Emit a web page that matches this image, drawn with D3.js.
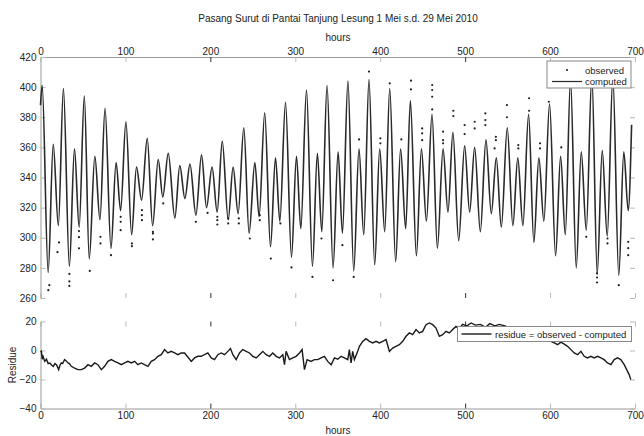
<!DOCTYPE html>
<html>
<head>
<meta charset="utf-8">
<script src="https://cdnjs.cloudflare.com/ajax/libs/d3/7.8.5/d3.min.js"></script>
<style>
  body { margin: 0; background: #fff; }
  svg text { font-family: 'Liberation Sans', Arial, sans-serif; fill: #222; }
</style>
</head>
<body>
<svg id="chart" width="644" height="436"></svg>
<script>
var chartTitle = 'Pasang Surut di Pantai Tanjung Lesung 1 Mei s.d. 29 Mei 2010';
var hourTicks = [0, 100, 200, 300, 400, 500, 600, 700];
var levelTicks = [260, 280, 300, 320, 340, 360, 380, 400, 420];
var residueTicks = [-40, -20, 0, 20];

// computed tide, read at its turning points (hours, level)
var computedHours = [0, 2, 9, 15, 21, 27, 34, 40, 45.5, 51.6, 57.4, 64, 70, 76, 83, 89, 94.3,
  100.6, 107.3, 113, 119, 125.7, 132, 138.6, 144, 150.4, 158.2, 164, 170, 176, 183, 189.6,
  195.5, 202, 208, 214, 221, 226.8, 232.7, 239.4, 245.6, 252.4, 257.4, 264, 270.8, 276.7,
  281.8, 288.5, 295.5, 301.4, 306.5, 313.2, 320.2, 326, 331.2, 337.4, 344.5, 350.4, 355.5,
  362, 368.8, 375, 380.6, 386.8, 393.5, 399.4, 405.3, 411.2, 418.2, 424, 430, 435.5, 442.6,
  448.5, 454.4, 461, 467.3, 474, 479.8, 485.6, 492.4, 499.4, 505.3, 511.2, 517.9, 524.5,
  530.8, 536.7, 542.6, 549.6, 556.2, 562, 568, 574.7, 580.9, 586.8, 592.7, 599.4, 606.5,
  612.4, 617.9, 624.1, 630.8, 636.7, 642.6, 649.2, 655.5, 661.4, 667.3, 673.9, 680.9,
  686.8, 692, 696];
var computedLevels = [388, 401, 277, 362, 308, 399, 281, 359, 307, 394, 286, 354, 312, 386, 293, 350, 318,
  377, 302, 347, 325, 366, 308, 352, 327, 356, 313, 348, 326, 349, 315, 355,
  320, 347, 317, 364, 312, 347, 316, 373, 303, 350, 314, 383, 294, 353,
  311, 390, 287, 354, 306, 398, 281, 356, 304, 401, 280, 357, 303,
  404, 278, 359, 302, 405, 282, 359, 304, 399, 284, 359, 306, 391, 288,
  359, 311, 382, 293, 359, 317, 370, 298, 361, 317, 360, 304, 365,
  316, 353, 307, 373, 308, 353, 308, 382, 297, 353, 311, 389, 288,
  354, 302, 405, 280, 357, 305, 408, 276, 358, 301, 407, 275,
  357, 318, 375];

// observed readings that stand off the computed curve
var observedHours = [9.2, 10.4, 20, 21.8, 34, 34, 34, 45.3, 45.3, 45.3, 58, 70.6, 70.6, 83, 94.4, 94.4, 94.4,
  107.6, 107.6, 119.4, 119.4, 119.4, 132.4, 132.4, 132.4, 144.5, 182.9, 196.7, 208.2, 208.2, 208.2,
  221, 221, 233.5, 233.5, 246.5, 258.2, 258.2, 271.2, 282.5, 295.5, 320.2, 330.8, 344.5, 355.5,
  368.8, 375.1, 386.8, 400.2, 400.2, 411.2, 424.9, 436.2, 436.2, 449.4, 449.4, 449.4, 461.2, 461.2,
  461.2, 461.2, 474, 474, 474, 486.1, 486.1, 499.4, 499.4, 511.2, 511.2, 523.8, 523.8, 523.8,
  534.7, 536.2, 536.2, 549.2, 549.2, 562.6, 562.6, 575.3, 575.3, 588.2, 588.2, 598.6, 613.2,
  642.6, 655.3, 655.3, 655.3, 667.6, 667.6, 680.9, 692, 692, 692];
var observedLevels = [265.2, 268.5, 290.4, 296.9, 276, 271, 268, 304.4, 300.4, 293, 278, 300.6, 296.2, 288.4, 313.9, 310.6, 305,
  296.2, 294.4, 318.3, 315, 311.7, 303.9, 302.8, 298.9, 322.8, 310.6, 316.5, 313.9, 311.7, 308.8,
  312.8, 309.5, 312.8, 309.5, 299.5, 315, 311.7, 286.2, 309.5, 280.3, 274, 299.5, 271.8, 295.1,
  274, 365.3, 410.3, 366, 362.7, 402.5, 365.3, 404.3, 398.5, 372.6, 369.3, 364.8, 401.4, 398.1,
  393.6, 385.2, 370.4, 364.8, 362.7, 384.3, 380.8, 374.8, 368.8, 377, 372.6, 382.6, 378.1, 374.8,
  359.3, 367, 364.8, 388.1, 380, 361.5, 359.3, 392.6, 384.3, 362.7, 359.3, 390.3, 360,
  300.6, 276.3, 273.6, 270.3, 299.5, 296.2, 268.5, 297.3, 293.1, 288.4];

// residue = observed - computed
var residueHours = [0, 1, 2, 3, 5, 7, 9, 11, 13, 15, 17, 19, 21.4, 23, 24.5, 26, 28.4, 30, 32.4, 34,
  36.3, 40.2, 44.1, 48, 52, 55.9, 59.8, 63.7, 67.6, 71.6, 75.5, 79.4, 83.3, 87.3, 91.2, 95.1,
  99, 102.9, 106.9, 110.8, 114.7, 118.6, 122.5, 126.5, 130.4, 134.3, 138.2, 142.2, 146.1, 150,
  153.9, 157.9, 161.8, 165.7, 169.6, 173.5, 177.5, 181.4, 185.3, 189.2, 193.1, 197.1, 201,
  204.9, 208.8, 212.7, 216.7, 220.6, 223.7, 226.5, 230.4, 234.3, 238.2, 242.2, 246.1, 250,
  253.9, 257.8, 261.8, 265.7, 269.6, 273.5, 277.5, 281.4, 285.3, 287.3, 289.2, 293.1, 297.1,
  301, 304.9, 308, 310.8, 313.9, 318.6, 322.5, 326.5, 330.4, 334.3, 338.2, 342.2, 346.1, 350,
  353.9, 357.8, 361.8, 363.7, 365.7, 367.6, 369.6, 373.5, 375.5, 379.4, 383.3, 387.3, 391.2,
  395.1, 399, 402.9, 406.9, 410.8, 414.7, 418.6, 422.5, 426.5, 430.4, 434.3, 438.2, 442.2,
  446.1, 450, 453.9, 457.8, 461.8, 465.7, 469.6, 473.5, 477.5, 481.4, 485.3, 489.2, 493, 497,
  502, 507, 512, 518, 524, 529, 535, 540, 547, 553, 560, 570, 580, 590, 598, 605, 608.8,
  612.7, 616.7, 620.6, 624.5, 628.4, 632.4, 636.3, 640.2, 644.1, 648, 652, 655.9, 659.8,
  663.7, 667.6, 671.6, 675.5, 679.4, 683.3, 687.3, 691.2, 693.1, 695.1];
var residueValues = [-1, -0.5, -6, -4, -7.5, -6, -9, -8.6, -10, -11, -9, -10, -13.2, -10, -8.6, -9, -6.3, -7, -8.6, -9,
  -10.9, -12.1, -13.2, -13.2, -12.1, -9.8, -10.9, -8.6, -9.8, -13.2, -10.9, -7.5, -6.3, -7.5, -8.6, -9.8,
  -8.6, -7.5, -8.6, -7.5, -9.8, -8.6, -9.8, -10.9, -7.5, -6.3, -4, -2.9, 0.6, -1.7,
  -0.6, -1.7, -2.9, -1.7, -1.7, -4.5, -7.5, -5.1, -4, -4, -2.9, -1.7, -5.1,
  -6.3, -2.9, -1.7, -2.9, -0.6, 1.3, -2.9, -6.3, -1.7, 0.6, -0.6, -1.7, -4,
  -5.1, -2.9, -0.6, -2.9, -4, -1.7, -4, -5.1, -2.9, -9.8, -0.6, -6.3, -5.1,
  -4, -1.7, 0.6, -13.2, -6.3, -7.5, -6.3, -6.3, -5.1, -4, -7.5, -9.8, -5.1, -6,
  -4, -5.1, -6.3, 0.6, -8.6, -0.6, -6.3, -0.6, 2.9, 6.3, 8.2, 6.3, 5.2,
  6.3, 5.2, 6.3, 7.5, -0.6, 1.7, 2.9, 4, 6.3, 9.8, 12.1, 10.9, 14.4,
  12.1, 13.2, 17.8, 19, 17.8, 15.5, 9.8, 10.9, 13.2, 12.1, 14.4, 16.6, 15, 18,
  17, 19, 17.5, 18, 16, 18.5, 17, 18, 17, 15, 14, 12, 11, 9, 7, 5.2, 4,
  5.8, 4.4, 2.9, 0.6, -1.7, -2.9, -0.6, -4, -5.1, -4, -5.1, -4, -5.1,
  -6.3, -8.6, -9.8, -6.3, -5.1, -6.3, -9.8, -14.4, -16.6, -20.1];

var darkHourTicks = [200, 500];

var svg = d3.select('#chart');

var x = d3
  .scaleLinear()
  .domain([0, 700])
  .range([40.5, 635]);

var yTop = d3
  .scaleLinear()
  .domain([260, 420])
  .range([298, 57]);

var yBot = d3
  .scaleLinear()
  .domain([-40, 20])
  .range([408.5, 321.5]);

function styleAxis(g, hideDomain) {
  g.selectAll('text')
    .style('font-size', '10px')
    .attr('fill', '#222');
  g.selectAll('.tick line').attr('stroke', function(d) {
    return darkHourTicks.indexOf(d) >= 0 ? '#333' : '#bbb';
  });
  if (hideDomain) {
    g.select('.domain').remove();
  } else {
    g.select('.domain').attr('stroke', '#999');
  }
}

// ---- top panel ----
svg
  .append('text')
  .attr('x', 338)
  .attr('y', 22)
  .attr('text-anchor', 'middle')
  .style('font-size', '10px')
  .text(chartTitle);

svg
  .append('text')
  .attr('x', 338)
  .attr('y', 41)
  .attr('text-anchor', 'middle')
  .style('font-size', '10px')
  .text('hours');

svg
  .append('g')
  .attr('transform', 'translate(0,57)')
  .call(d3.axisTop(x).tickValues(hourTicks).tickSizeInner(-5).tickSizeOuter(0).tickPadding(2))
  .call(styleAxis, false);

svg
  .append('g')
  .attr('transform', 'translate(0,298)')
  .call(d3.axisBottom(x).tickValues(hourTicks).tickSizeInner(-5).tickSizeOuter(0).tickFormat(''))
  .call(styleAxis, true);

svg
  .append('g')
  .attr('transform', 'translate(40.5,0)')
  .call(d3.axisLeft(yTop).tickValues(levelTicks).tickSizeInner(-5).tickSizeOuter(0).tickPadding(4))
  .call(styleAxis, false);

svg
  .append('g')
  .attr('transform', 'translate(635,0)')
  .call(d3.axisRight(yTop).tickValues(levelTicks).tickSizeInner(-5).tickSizeOuter(0).tickFormat(''))
  .call(styleAxis, true);

var computed = computedHours.map(function(h, i) {
  return { hour: h, level: computedLevels[i] };
});

var tideLine = d3
  .line()
  .x(function(d) {
    return x(d.hour);
  })
  .y(function(d) {
    return yTop(d.level);
  })
  .curve(d3.curveMonotoneX);

svg
  .append('path')
  .datum(computed)
  .attr('fill', 'none')
  .attr('stroke', '#2a2a2a')
  .attr('stroke-width', 1.6)
  .attr('d', tideLine);

var observed = observedHours.map(function(h, i) {
  return { hour: h, level: observedLevels[i] };
});

svg
  .selectAll('.obs')
  .data(observed)
  .enter()
  .append('circle')
  .attr('class', 'obs')
  .attr('cx', function(d) {
    return x(d.hour);
  })
  .attr('cy', function(d) {
    return yTop(d.level);
  })
  .attr('r', 1.1)
  .attr('fill', '#222');

// legend (top)
var legTop = svg.append('g').attr('transform', 'translate(547,61)');
legTop
  .append('rect')
  .attr('width', 84)
  .attr('height', 27)
  .attr('fill', '#fff')
  .attr('stroke', '#888');
legTop
  .append('circle')
  .attr('cx', 20)
  .attr('cy', 9)
  .attr('r', 1.1)
  .attr('fill', '#222');
legTop
  .append('text')
  .attr('x', 38)
  .attr('y', 12.5)
  .style('font-size', '9.5px')
  .text('observed');
legTop
  .append('line')
  .attr('x1', 5)
  .attr('x2', 35)
  .attr('y1', 20.5)
  .attr('y2', 20.5)
  .attr('stroke', '#2a2a2a')
  .attr('stroke-width', 1.2);
legTop
  .append('text')
  .attr('x', 38)
  .attr('y', 24)
  .style('font-size', '9.5px')
  .text('computed');

// ---- bottom panel ----
svg
  .append('g')
  .attr('transform', 'translate(0,408.5)')
  .call(d3.axisBottom(x).tickValues(hourTicks).tickSizeInner(-5).tickSizeOuter(0).tickPadding(3))
  .call(styleAxis, false);

svg
  .append('g')
  .attr('transform', 'translate(0,321.5)')
  .call(d3.axisTop(x).tickValues(hourTicks).tickSizeInner(-5).tickSizeOuter(0).tickFormat(''))
  .call(styleAxis, true);

svg
  .append('g')
  .attr('transform', 'translate(40.5,0)')
  .call(d3.axisLeft(yBot).tickValues(residueTicks).tickSizeInner(-5).tickSizeOuter(0).tickPadding(4))
  .call(styleAxis, false);

svg
  .append('g')
  .attr('transform', 'translate(635,0)')
  .call(d3.axisRight(yBot).tickValues(residueTicks).tickSizeInner(-5).tickSizeOuter(0).tickFormat(''))
  .call(styleAxis, true);

svg
  .append('text')
  .attr('x', 338)
  .attr('y', 434)
  .attr('text-anchor', 'middle')
  .style('font-size', '10px')
  .text('hours');

svg
  .append('text')
  .attr('transform', 'translate(16,365) rotate(-90)')
  .attr('text-anchor', 'middle')
  .style('font-size', '10px')
  .text('Residue');

var residue = residueHours.map(function(h, i) {
  return { hour: h, value: residueValues[i] };
});

svg
  .append('path')
  .datum(residue)
  .attr('fill', 'none')
  .attr('stroke', '#1a1a1a')
  .attr('stroke-width', 1.4)
  .attr(
    'd',
    d3
      .line()
      .x(function(d) {
        return x(d.hour);
      })
      .y(function(d) {
        return yBot(d.value);
      })
  );

// legend (bottom)
var legBot = svg.append('g').attr('transform', 'translate(457.5,326.5)');
legBot
  .append('rect')
  .attr('width', 174)
  .attr('height', 15)
  .attr('fill', '#fff')
  .attr('stroke', '#888');
legBot
  .append('line')
  .attr('x1', 4)
  .attr('x2', 34)
  .attr('y1', 7.5)
  .attr('y2', 7.5)
  .attr('stroke', '#1a1a1a')
  .attr('stroke-width', 1.4);
legBot
  .append('text')
  .attr('x', 37.5)
  .attr('y', 11)
  .style('font-size', '9.5px')
  .text('residue = observed - computed');
</script>
</body>
</html>
